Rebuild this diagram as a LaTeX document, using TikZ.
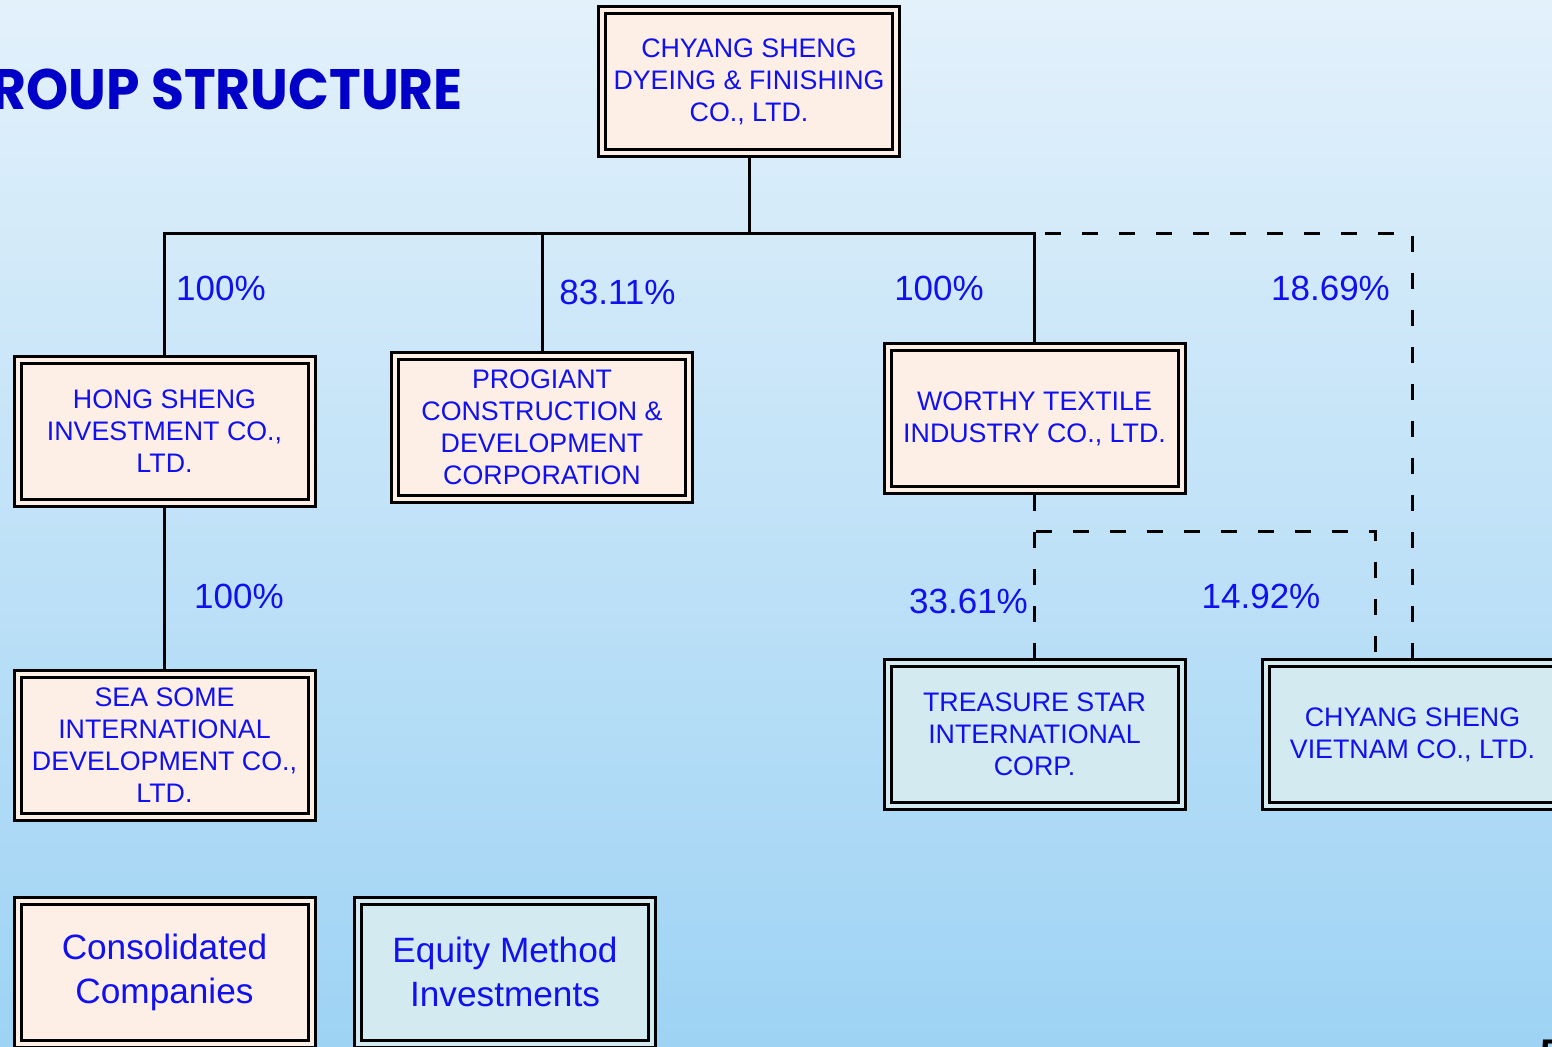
\documentclass[tikz,border=0pt]{standalone}
\usepackage{fontspec}
\setmainfont{Liberation Sans}
\newfontfamily\titlefont{Poppins}[FakeStretch=0.94]
\usepackage{xcolor}
\usepackage{tikz}
\usetikzlibrary{positioning, calc}
\definecolor{skytop}{RGB}{227,241,251}
\definecolor{skybot}{RGB}{158,211,244}
\definecolor{peach}{RGB}{253,239,229}
\definecolor{paleteal}{RGB}{211,235,240}
\definecolor{labelblue}{RGB}{16,16,240}
\definecolor{titleblue}{RGB}{0,0,200}
\tikzstyle{consol} = [rectangle, minimum width=147pt, minimum height=71.5pt, inner sep=0pt, align=center, draw=black, line width=1.5pt, double=peach, double distance=2pt, fill=peach, outer sep=2.5pt, text=labelblue, font=\fontsize{13.4}{16}\selectfont]
\tikzstyle{equity} = [consol, double=paleteal, fill=paleteal]
\tikzstyle{keybox} = [font=\fontsize{17.6}{22}\selectfont]
\tikzstyle{pct} = [text=labelblue, font=\fontsize{17.5}{21}\selectfont]
\tikzstyle{link} = [line width=1.5pt]
\tikzstyle{share} = [line width=1.5pt, dash pattern=on 8pt off 10.5pt]

\begin{document}
\begin{tikzpicture}[x=0.5pt, y=-0.5pt]
\useasboundingbox (0,0) rectangle (1552,1046);
\clip (0,0) rectangle (1552,1046);
\shade [top color=skytop, bottom color=skybot] (0,0) rectangle (1552,1046);

\node (title) [anchor=east, text=titleblue, font=\titlefont\bfseries\fontsize{28.5}{34}\selectfont] at (470,89) {GROUP STRUCTURE};

% companies
\node (top) [consol] at (749,81.5) {CHYANG SHENG\\DYEING \& FINISHING\\CO., LTD.};
\node (hong) [consol] at (164.5,431.5) {HONG SHENG\\INVESTMENT CO.,\\LTD.};
\node (progiant) [consol] at (542,427) {PROGIANT\\CONSTRUCTION \&\\DEVELOPMENT\\CORPORATION};
\node (worthy) [consol] at (1034.5,418.5) {WORTHY TEXTILE\\INDUSTRY CO., LTD.};
\node (sea) [consol] at (164.5,745) {SEA SOME\\INTERNATIONAL\\DEVELOPMENT CO.,\\LTD.};
\node (treasure) [equity] at (1034.5,734.5) {TREASURE STAR\\INTERNATIONAL\\CORP.};
\node (vietnam) [equity] at (1412.5,734.5) {CHYANG SHENG\\VIETNAM CO., LTD.};

% legend
\node (consolkey) [consol, keybox] at (164.5,972) {Consolidated\\Companies};
\node (equitykey) [equity, keybox] at (505,972) {Equity Method\\Investments};

% shareholdings
\coordinate (split) at (749,233);
\coordinate (bend) at (1375,531);
\draw [link] (top.south) -- (split);
\draw [link] (split) -| (hong.north);
\draw [link] (split) -| (progiant.north);
\draw [link] (split) -| (worthy.north);
\draw [share] (split) -| (vietnam.north);
\draw [link] (hong.south) -- (sea.north);
\draw [share] (worthy.south) -- (treasure.north);
\draw [share] (worthy.south) |- (bend) -- (bend |- vietnam.north);

\node (p1) [pct] at (221,288) {100\%};
\node (p2) [pct] at (617.5,292) {83.11\%};
\node (p3) [pct] at (939,288) {100\%};
\node (p4) [pct] at (1330.5,288) {18.69\%};
\node (p5) [pct] at (239,596) {100\%};
\node (p6) [pct] at (968.5,601) {33.61\%};
\node (p7) [pct] at (1261,596) {14.92\%};

\node (pageno) [anchor=north west, inner sep=0pt, font=\bfseries\fontsize{20}{24}\selectfont] at (1540,1040) {5};
\end{tikzpicture}
\end{document}
